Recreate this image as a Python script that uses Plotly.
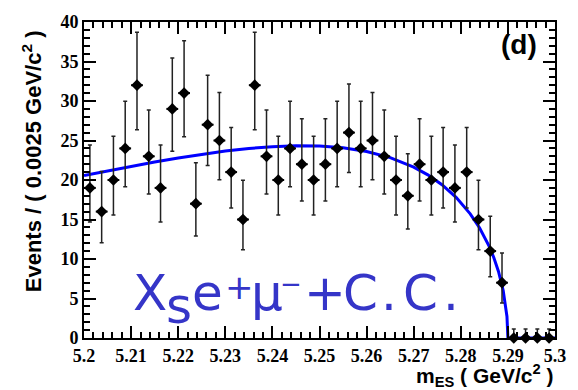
import numpy as np
import plotly.graph_objects as go

# ---------------- data ----------------
bin_width = 0.0025
bin_centers = [5.20125 + bin_width * i for i in range(40)]
counts = [19, 16, 20, 24, 32, 23, 19, 29, 31, 17,
          27, 25, 21, 15, 32, 23, 20, 24, 22, 20,
          22, 24, 26, 24, 25, 23, 20, 18, 22, 20,
          21, 19, 21, 15, 11, 7, 0, 0, 0, 0]

# fitted background curve
curve_x = [5.200, 5.205, 5.210, 5.215, 5.220, 5.225, 5.230, 5.235, 5.240,
           5.245, 5.250, 5.255, 5.260, 5.265, 5.270, 5.273, 5.276, 5.279,
           5.282, 5.284, 5.286, 5.287, 5.288, 5.289, 5.2895, 5.2898, 5.290,
           5.300]
curve_y = [20.57, 21.16, 21.74, 22.28, 22.79, 23.26, 23.66, 23.99, 24.22,
           24.34, 24.30, 24.08, 23.61, 22.83, 21.63, 20.65, 19.40, 17.80,
           15.72, 13.93, 11.64, 10.20, 8.42, 6.02, 4.29, 2.73, 0.0,
           0.0]

x_tick_vals = [5.20, 5.21, 5.22, 5.23, 5.24, 5.25, 5.26, 5.27, 5.28, 5.29, 5.30]
x_tick_text = ["5.2", "5.21", "5.22", "5.23", "5.24", "5.25", "5.26", "5.27", "5.28", "5.29", "5.3"]
y_tick_vals = [0, 5, 10, 15, 20, 25, 30, 35, 40]
y_tick_text = ["0", "5", "10", "15", "20", "25", "30", "35", "40"]

# Poisson (Garwood-like) asymmetric errors derived from the counts
n = np.array(counts, dtype=float)
err_hi = np.where(n > 0, (n + 1) * (1 - 1 / (9 * (n + 1)) + 1 / (3 * np.sqrt(n + 1))) ** 3 - n, 1.15)
safe = np.where(n > 0, n, 1)
err_lo = np.where(n > 0, n - safe * (1 - 1 / (9 * safe) - 1 / (3 * np.sqrt(safe))) ** 3, 0.0)

# ---------------- figure ----------------
L, R, T, B = 84, 14, 14, 52
W, H = 578, 390
PW, PH = W - L - R, H - T - B


def px(xp):
    return (xp - L) / PW


def py(yp):
    return (H - B - yp) / PH


fig = go.Figure()

fig.add_trace(go.Scatter(
    x=curve_x, y=curve_y, mode="lines",
    line=dict(color="#0000ff", width=3),
    hoverinfo="skip", cliponaxis=False,
))

fig.add_trace(go.Scatter(
    x=bin_centers, y=counts, mode="markers",
    marker=dict(symbol="diamond", size=9, color="black"),
    error_y=dict(type="data", symmetric=False, array=err_hi, arrayminus=err_lo,
                 color="#222222", thickness=1.5, width=2),
    error_x=dict(type="constant", value=bin_width / 2, color="black", thickness=2, width=0),
    cliponaxis=False,
))

tick_font = dict(family="Liberation Serif", size=18, color="black", weight="bold")

fig.update_xaxes(
    range=[5.2, 5.3], tickvals=x_tick_vals,
    ticktext=["<b>" + t + "</b>" for t in x_tick_text],
    ticks="inside", ticklen=12, tickwidth=1.5, tickcolor="black",
    minor=dict(dtick=0.002, ticks="inside", ticklen=6, tickwidth=1.5, tickcolor="black"),
    showline=True, linecolor="black", linewidth=2, mirror="ticks",
    showgrid=False, zeroline=False, tickfont=tick_font,
)
fig.update_yaxes(
    range=[0, 40], tickvals=y_tick_vals,
    ticktext=["<b>" + t + "</b>" for t in y_tick_text],
    ticks="inside", ticklen=12, tickwidth=1.5, tickcolor="black",
    minor=dict(dtick=1, ticks="inside", ticklen=6, tickwidth=1.5, tickcolor="black"),
    showline=True, linecolor="black", linewidth=2, mirror="ticks",
    showgrid=False, zeroline=False, tickfont=tick_font,
)

fig.add_annotation(
    text="<b>Events / ( 0.0025 GeV/c<sup>2</sup> )</b>", textangle=-90,
    xref="paper", yref="paper", x=-0.11, y=0.56, xanchor="center", yanchor="middle",
    showarrow=False,
    font=dict(family="Liberation Sans", size=22, color="black"),
)
fig.add_annotation(
    text="<b>m<sub>ES</sub> ( GeV/c<sup>2</sup> )</b>",
    xref="paper", yref="paper", x=1.0, y=-0.12, xanchor="right", yanchor="middle",
    showarrow=False,
    font=dict(family="Liberation Sans", size=21, color="black"),
)
fig.add_annotation(
    text="<b>(d)</b>", xref="paper", yref="paper", x=0.965, y=0.93,
    xanchor="right", yanchor="middle", showarrow=False,
    font=dict(family="Liberation Sans", size=28, color="black"),
)

# channel label X_s e+ mu- + C.C., laid out glyph group by glyph group
blue = "#3535c8"
label_parts = [
    # text, centre x px, centre y px, font size
    ("X", 151.5, 292, 50),
    ("s", 181.0, 305, 50),
    ("e", 209.5, 292, 50),
    ("+", 242.5, 286, 34),
    ("μ", 271.0, 292, 50),
    ("\u2212", 294.5, 283, 26),
    ("+", 330.0, 292, 50),
    ("C", 365.5, 292, 50),
    (".", 395.0, 292, 50),
    ("C", 426.5, 292, 50),
    (".", 458.5, 292, 50),
]
for txt, cx, cy, fs in label_parts:
    fig.add_annotation(
        text=txt, xref="paper", yref="paper", x=px(cx), y=py(cy),
        xanchor="center", yanchor="middle", showarrow=False,
        font=dict(family="DejaVu Sans", size=fs, color=blue),
    )

fig.update_layout(
    width=W, height=H,
    margin=dict(l=L, r=R, t=T, b=B),
    paper_bgcolor="white", plot_bgcolor="white",
    showlegend=False,
)

fig.write_html("out.html")
